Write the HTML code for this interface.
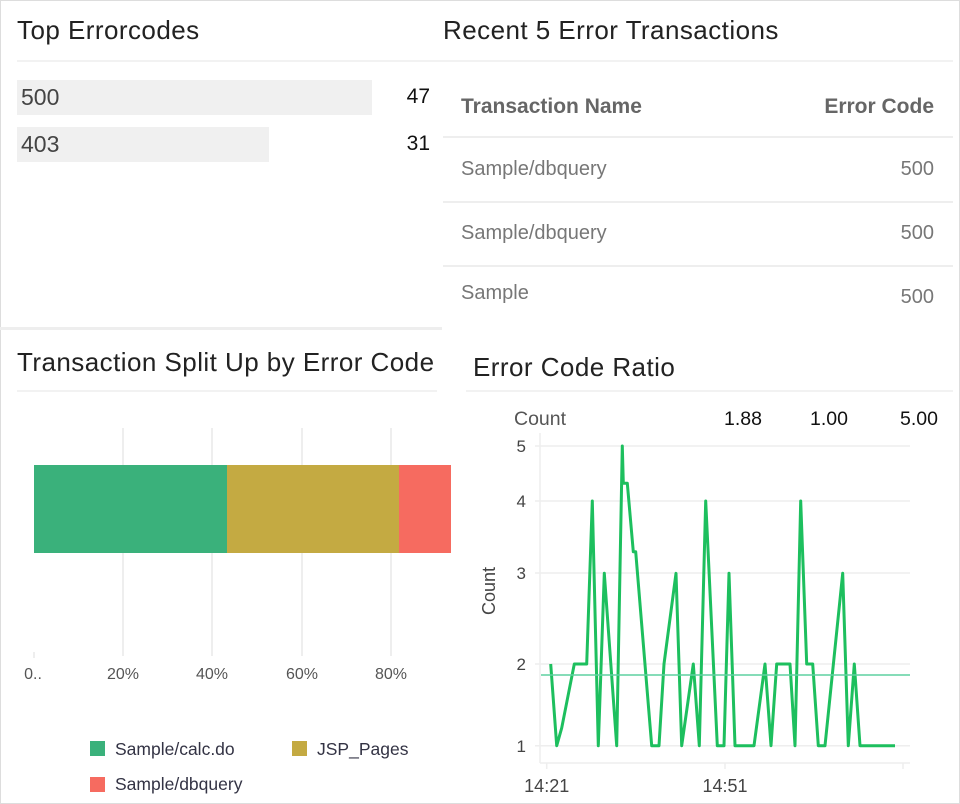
<!DOCTYPE html>
<html><head><meta charset="utf-8"><style>
body{margin:0;width:960px;height:804px;overflow:hidden;background:#fff;font-family:"Liberation Sans",sans-serif;}
.a{position:absolute;white-space:nowrap;}
.t{font-size:26px;letter-spacing:0.45px;color:#222;}
.r{text-align:right;}
</style></head><body>
<div class="a" style="left:0;top:0;width:958px;height:802px;border:1px solid #ddd;"></div>
<div class="a t" style="left:17px;top:15px;">Top Errorcodes</div>
<div class="a" style="left:17px;top:60px;width:426px;height:2px;background:#f2f2f2;"></div>
<div class="a" style="left:17px;top:80px;width:355px;height:35px;background:#f0f0f0;"></div>
<div class="a" style="left:21px;top:84px;font-size:23px;color:#444;">500</div>
<div class="a r" style="left:380px;width:50px;top:85px;font-size:21px;color:#111;">47</div>
<div class="a" style="left:17px;top:127px;width:252px;height:35px;background:#f0f0f0;"></div>
<div class="a" style="left:21px;top:131px;font-size:23px;color:#444;">403</div>
<div class="a r" style="left:380px;width:50px;top:132px;font-size:21px;color:#111;">31</div>
<div class="a" style="left:0;top:327px;width:442px;height:3px;background:#eee;"></div>

<div class="a t" style="left:443px;top:15px;">Recent 5 Error Transactions</div>
<div class="a" style="left:443px;top:60px;width:510px;height:2px;background:#f2f2f2;"></div>
<div class="a" style="left:461px;top:95px;font-size:21px;font-weight:bold;color:#666;">Transaction Name</div>
<div class="a r" style="left:734px;width:200px;top:95px;font-size:21px;font-weight:bold;color:#666;">Error Code</div>
<div class="a" style="left:443px;top:136px;width:510px;height:2px;background:#eee;"></div>
<div class="a" style="left:461px;top:158px;font-size:20px;color:#777;">Sample/dbquery</div>
<div class="a r" style="left:834px;width:100px;top:158px;font-size:20px;color:#777;">500</div>
<div class="a" style="left:443px;top:201px;width:510px;height:2px;background:#eee;"></div>
<div class="a" style="left:461px;top:222px;font-size:20px;color:#777;">Sample/dbquery</div>
<div class="a r" style="left:834px;width:100px;top:222px;font-size:20px;color:#777;">500</div>
<div class="a" style="left:443px;top:265px;width:510px;height:2px;background:#eee;"></div>
<div class="a" style="left:461px;top:282px;font-size:20px;color:#777;">Sample</div>
<div class="a r" style="left:834px;width:100px;top:286px;font-size:20px;color:#777;">500</div>

<div class="a t" style="left:17px;top:347px;">Transaction Split Up by Error Code</div>
<div class="a" style="left:17px;top:390px;width:420px;height:2px;background:#f2f2f2;"></div>
<div class="a t" style="left:473px;top:352px;">Error Code Ratio</div>
<div class="a" style="left:466px;top:390px;width:487px;height:2px;background:#f2f2f2;"></div>

<svg class="a" style="left:0;top:0" width="960" height="804">
<g stroke="#e8e8e8" stroke-width="1.5">
<line x1="123" y1="428" x2="123" y2="656"/><line x1="212" y1="428" x2="212" y2="656"/>
<line x1="302" y1="428" x2="302" y2="656"/><line x1="391" y1="428" x2="391" y2="656"/>
<line x1="34" y1="652" x2="34" y2="658"/>
</g>
<rect x="34" y="465" width="193" height="88" fill="#3ab17b"/>
<rect x="227" y="465" width="172" height="88" fill="#c4aa42"/>
<rect x="399" y="465" width="52" height="88" fill="#f66b60"/>
<g font-size="16" fill="#555" text-anchor="middle" font-family="Liberation Sans">
<text x="33" y="679">0..</text><text x="123" y="679">20%</text><text x="212" y="679">40%</text><text x="302" y="679">60%</text><text x="391" y="679">80%</text>
</g>
<rect x="90" y="741" width="15" height="15" fill="#3ab17b"/>
<rect x="292" y="741" width="15" height="15" fill="#c4aa42"/>
<rect x="90" y="777" width="15" height="15" fill="#f66b60"/>
<g font-size="17.5" fill="#334" font-family="Liberation Sans">
<text x="115" y="755">Sample/calc.do</text><text x="317" y="755">JSP_Pages</text><text x="115" y="790">Sample/dbquery</text>
</g>

<text x="514" y="425" font-size="19.5" fill="#555">Count</text>
<g font-size="19.5" fill="#111" text-anchor="end"><text x="762" y="425">1.88</text><text x="848" y="425">1.00</text><text x="938" y="425">5.00</text></g>
<g stroke="#eee" stroke-width="1.5">
<line x1="535" y1="446" x2="910" y2="446"/><line x1="535" y1="501" x2="910" y2="501"/>
<line x1="535" y1="573" x2="910" y2="573"/><line x1="535" y1="664" x2="910" y2="664"/>
<line x1="535" y1="745.7" x2="910" y2="745.7"/>
<line x1="540" y1="433" x2="540" y2="763"/>
<line x1="540" y1="763" x2="910" y2="763"/>
<line x1="546.7" y1="763" x2="546.7" y2="769"/><line x1="725" y1="763" x2="725" y2="769"/><line x1="903" y1="763" x2="903" y2="769"/>
</g>
<g font-size="17" fill="#444" text-anchor="end"><text x="526" y="452">5</text><text x="526" y="507">4</text><text x="526" y="579">3</text><text x="526" y="670">2</text><text x="526" y="752">1</text></g>
<g font-size="18" fill="#444" text-anchor="middle"><text x="546.7" y="792">14:21</text><text x="725" y="792">14:51</text></g>
<text transform="translate(495,591) rotate(-90)" font-size="18" fill="#444" text-anchor="middle">Count</text>
<polyline fill="none" stroke="#1dbf5e" stroke-width="3" stroke-linejoin="round" points="550.7,664 556.7,745.7 561.7,728 574.3,664 586.7,664 592.3,501 598.3,745.7 604.3,573.3 616.7,745.7 622.3,446 623.3,483.3 627.3,483.3 633.3,551.7 635.7,551.7 651.7,745.7 659,745.7 664,664 676,573.3 681.7,745.7 693.3,664 699.3,745.7 705.7,501 717.3,745.7 724,745.7 729,573.3 735,745.7 754,745.7 765,664 771,745.7 776.7,664 790,664 795,745.7 800.7,501 806.7,664 812.7,664 818.3,745.7 825,745.7 842.7,573.3 848.3,745.7 854.3,664 860,745.7 895,745.7"/>
<line x1="541" y1="675" x2="910" y2="675" stroke="#5fd0a0" stroke-width="1.5"/>
</svg>
</body></html>
